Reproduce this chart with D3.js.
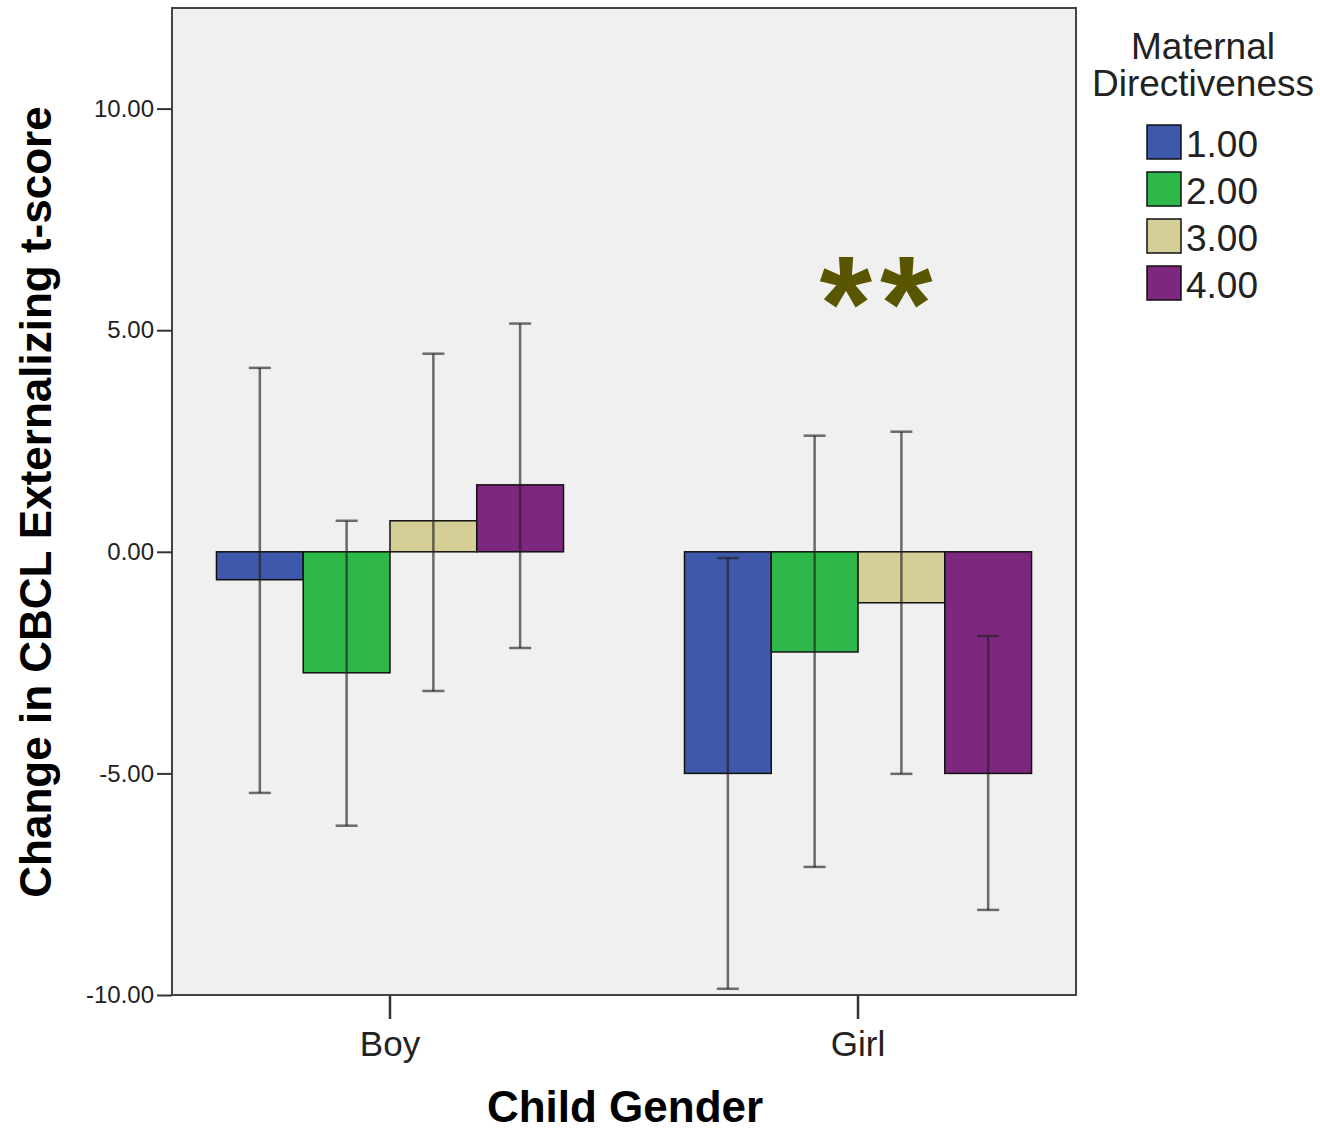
<!DOCTYPE html>
<html>
<head>
<meta charset="utf-8">
<script src="https://d3js.org/d3.v7.min.js"></script>
<style>
  body { margin: 0; background: #fff; }
  text { font-family: "Liberation Sans", Arial, sans-serif; }
</style>
</head>
<body>
<div id="chart"></div>
<script>
const width = 1320;
const height = 1132;

// data
const genders = ["Boy", "Girl"];
const levels = ["1.00", "2.00", "3.00", "4.00"];
const colors = ["#3e58ac", "#2fb84a", "#d5ce96", "#7e277f"];
const boyMeans = [-0.63, -2.73, 0.70, 1.51];
const girlMeans = [-5.0, -2.26, -1.15, -5.0];
const boyLow = [-5.44, -6.18, -3.14, -2.17];
const boyHigh = [4.15, 0.70, 4.47, 5.15];
const girlLow = [-9.86, -7.11, -5.01, -8.08];
const girlHigh = [-0.14, 2.62, 2.71, -1.90];
const yTicks = [-10, -5, 0, 5, 10];

const rows = [];
genders.forEach((g, gi) => {
  const means = gi === 0 ? boyMeans : girlMeans;
  const lo = gi === 0 ? boyLow : girlLow;
  const hi = gi === 0 ? boyHigh : girlHigh;
  levels.forEach((l, li) => rows.push({ g: g, l: l, li: li, v: means[li], lo: lo[li], hi: hi[li] }));
});

const plot = { left: 172, right: 1076, top: 8, bottom: 995 };

let svg = d3.select("#chart").append("svg")
  .attr("width", width)
  .attr("height", height);

let x = d3.scaleBand().domain(genders).range([plot.left, plot.right]).paddingInner(0.2585).paddingOuter(0.095);
let x1 = d3.scaleBand().domain(levels).range([0, x.bandwidth()]);
let y = d3.scaleLinear().domain([-10, 12.27]).range([plot.bottom, plot.top]);

// plot background
svg.append("rect")
  .attr("x", plot.left).attr("y", plot.top)
  .attr("width", plot.right - plot.left).attr("height", plot.bottom - plot.top)
  .attr("fill", "#f0f0f0")
  .attr("stroke", "#444").attr("stroke-width", 2);

// bars
svg.append("g").selectAll("rect")
  .data(rows)
  .enter().append("rect")
  .attr("x", d => x(d.g) + x1(d.l))
  .attr("width", x1.bandwidth())
  .attr("y", d => y(Math.max(0, d.v)))
  .attr("height", d => Math.abs(y(d.v) - y(0)))
  .attr("fill", d => colors[d.li])
  .attr("stroke", "#111").attr("stroke-width", 1.5);

// error bars
let eb = svg.append("g")
  .attr("stroke", "#222").attr("stroke-opacity", 0.65).attr("stroke-width", 2.5);
rows.forEach(d => {
  let cx = x(d.g) + x1(d.l) + x1.bandwidth() / 2;
  eb.append("line").attr("x1", cx).attr("x2", cx).attr("y1", y(d.hi)).attr("y2", y(d.lo));
  eb.append("line").attr("x1", cx - 11).attr("x2", cx + 11).attr("y1", y(d.hi)).attr("y2", y(d.hi));
  eb.append("line").attr("x1", cx - 11).attr("x2", cx + 11).attr("y1", y(d.lo)).attr("y2", y(d.lo));
});

// y axis
let yAxis = svg.append("g")
  .attr("transform", "translate(" + plot.left + ",0)")
  .call(d3.axisLeft(y).tickValues(yTicks).tickFormat(d => d3.format(".2f")(d).replace("\u2212", "-")).tickSize(15).tickPadding(3));
yAxis.select(".domain").remove();
yAxis.selectAll("line").attr("stroke", "#333").attr("stroke-width", 2);
yAxis.selectAll("text").attr("font-size", 24).attr("fill", "#222")
  .style("font-family", "'Liberation Sans', Arial, sans-serif");

// x axis
let xAxis = svg.append("g")
  .attr("transform", "translate(0," + plot.bottom + ")")
  .call(d3.axisBottom(x).tickSize(24).tickPadding(12));
xAxis.select(".domain").remove();
xAxis.selectAll("line").attr("stroke", "#333").attr("stroke-width", 2.5);
xAxis.selectAll("text").attr("font-size", 35).attr("fill", "#222")
  .style("font-family", "'Liberation Sans', Arial, sans-serif");

// axis titles
svg.append("text")
  .attr("x", 625).attr("y", 1122)
  .attr("text-anchor", "middle")
  .attr("font-size", 44).attr("font-weight", "bold")
  .text("Child Gender");
svg.append("text")
  .attr("transform", "translate(51,502) rotate(-90)")
  .attr("text-anchor", "middle")
  .attr("font-size", 44).attr("font-weight", "bold")
  .text("Change in CBCL Externalizing t-score");

// significance marker
svg.append("text")
  .attr("x", 880).attr("y", 350)
  .attr("text-anchor", "middle")
  .attr("font-size", 135).attr("font-weight", "bold")
  .attr("fill", "#5a5500")
  .attr("letter-spacing", 8)
  .text("**");

// legend
let legend = svg.append("g");
legend.append("text").attr("x", 1203).attr("y", 59).attr("text-anchor", "middle")
  .attr("font-size", 37).attr("fill", "#222").text("Maternal");
legend.append("text").attr("x", 1203).attr("y", 96).attr("text-anchor", "middle")
  .attr("font-size", 37).attr("fill", "#222").text("Directiveness");
let li = legend.selectAll("g.item")
  .data(levels)
  .enter().append("g")
  .attr("class", "item")
  .attr("transform", (d, i) => "translate(1147," + (125 + i * 47) + ")");
li.append("rect")
  .attr("width", 34).attr("height", 34)
  .attr("fill", (d, i) => colors[i])
  .attr("stroke", "#111").attr("stroke-width", 1.5);
li.append("text")
  .attr("x", 39).attr("y", 32)
  .attr("font-size", 37).attr("fill", "#222")
  .text(d => d);
</script>
</body>
</html>
